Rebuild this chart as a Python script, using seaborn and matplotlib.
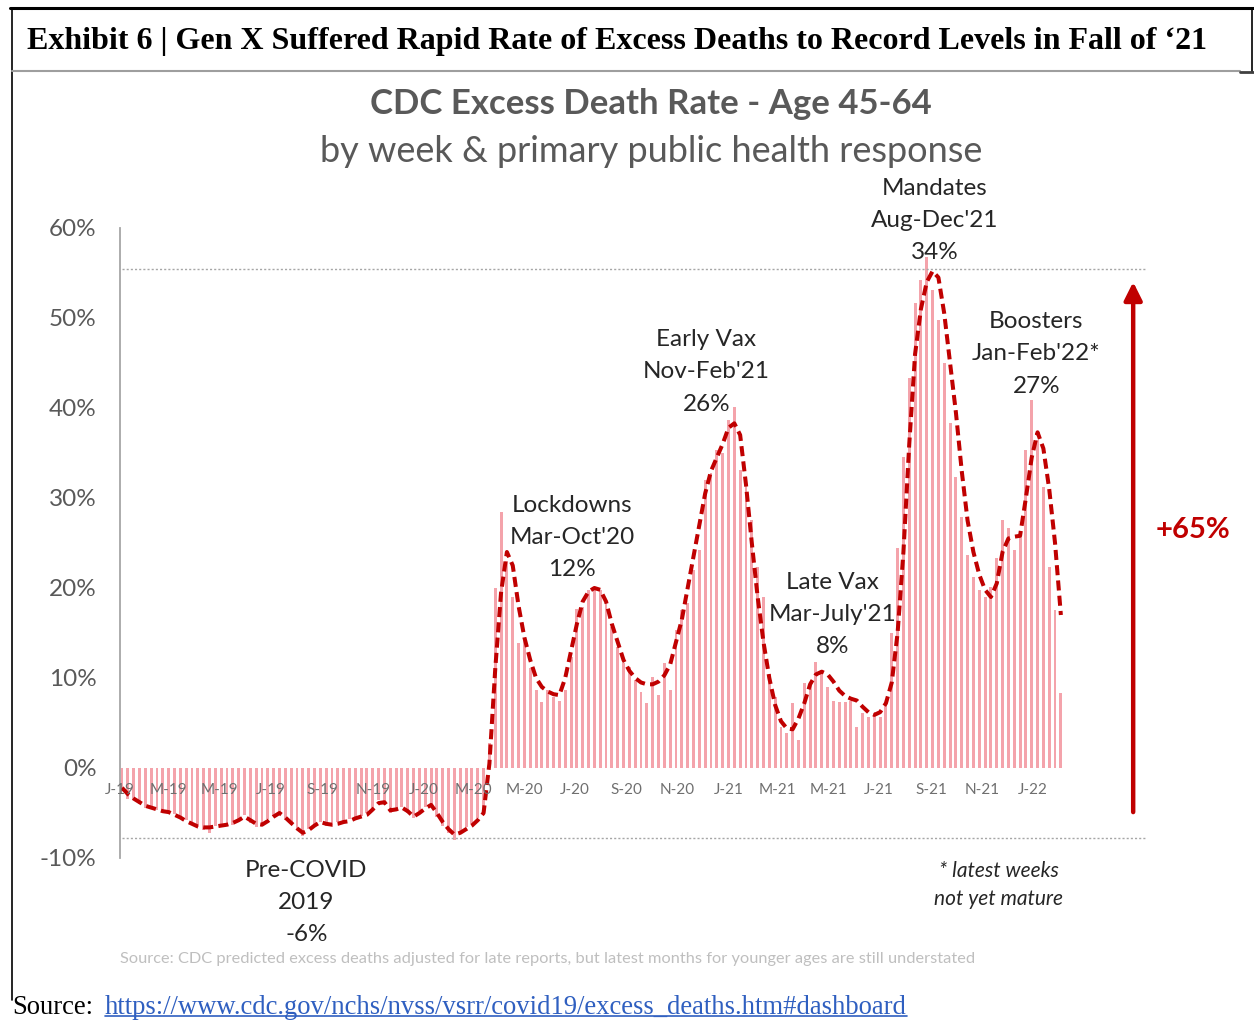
import matplotlib
matplotlib.use("Agg")
import matplotlib.pyplot as plt
from matplotlib.lines import Line2D
import seaborn as sns
import pandas as pd

# weekly excess death rate, age 45-64 (%), first week of Jan 2019 onward
excess = [
    -2.6, -3.4, -3.6, -4.0, -4.4, -4.3, -4.7, -4.9, -4.8, -5.1,
    -5.6, -5.8, -6.3, -6.6, -6.9, -7.2, -6.4, -6.6, -6.2, -6.3,
    -5.9, -5.2, -6.1, -6.6, -6.2, -5.7, -5.3, -4.9, -5.8, -6.3,
    -6.9, -7.6, -6.8, -6.2, -6.0, -6.4, -6.3, -6.0, -6.1, -5.7,
    -5.5, -5.3, -5.0, -4.4, -3.6, -4.1, -5.0, -4.5, -4.3, -5.0,
    -5.6, -4.8, -4.3, -4.0, -5.4, -6.4, -7.2, -8.0, -7.1, -6.6,
    -6.2, -5.6, -5.2, 2.8, 20.0, 28.4, 23.0, 19.0, 13.9, 14.4,
    11.1, 8.7, 7.3, 8.7, 7.9, 7.5, 8.7, 12.3, 17.7, 17.9,
    19.8, 20.0, 19.8, 18.7, 15.7, 13.4, 11.7, 11.2, 9.8, 8.4,
    7.2, 10.1, 8.1, 11.7, 8.7, 15.3, 17.6, 18.3, 22.0, 24.2,
    32.0, 32.8, 35.3, 35.0, 38.7, 40.1, 33.1, 32.3, 27.6, 22.3,
    19.0, 10.5, 7.9, 4.6, 3.9, 7.2, 3.1, 9.4, 9.6, 11.8,
    10.9, 9.0, 7.5, 7.3, 7.3, 7.5, 4.6, 6.1, 5.7, 6.1,
    5.7, 7.0, 15.0, 24.4, 34.6, 43.3, 51.7, 54.2, 56.8, 53.1,
    49.8, 45.0, 38.3, 32.3, 27.9, 23.7, 21.2, 19.8, 19.0, 20.1,
    23.3, 27.6, 26.7, 24.2, 26.1, 35.3, 40.9, 36.4, 31.2, 22.3,
    17.6, 8.3,
]

# dashed trend line (%)
trend = [
    -2.2, -2.9, -3.4, -3.8, -4.2, -4.4, -4.6, -4.8, -4.9, -5.2,
    -5.5, -5.9, -6.2, -6.5, -6.6, -6.6, -6.5, -6.4, -6.3, -6.1,
    -5.8, -5.4, -5.8, -6.2, -6.3, -5.9, -5.4, -5.0, -5.5, -6.1,
    -6.7, -7.2, -6.9, -6.4, -6.0, -6.2, -6.3, -6.2, -6.0, -5.9,
    -5.6, -5.4, -5.2, -4.6, -3.9, -3.8, -4.7, -4.6, -4.4, -4.8,
    -5.4, -5.0, -4.5, -4.1, -5.0, -6.0, -6.8, -7.4, -7.2, -6.8,
    -6.4, -5.8, -5.0, 0.5, 11.0, 19.5, 24.0, 22.5, 18.0, 14.5,
    12.0, 10.0, 9.0, 8.5, 8.2, 8.1, 10.0, 13.0, 16.0, 18.5,
    19.6, 20.0, 19.8, 18.5, 16.0, 14.0, 12.0, 10.8, 10.0, 9.5,
    9.3, 9.3, 9.6, 10.3, 11.5, 14.0, 16.5, 20.0, 23.5, 27.0,
    30.5, 33.0, 34.5, 36.0, 37.8, 38.3, 37.0, 31.5, 25.0, 19.0,
    14.0, 10.0, 7.0, 5.2, 4.4, 4.3, 5.5, 7.2, 9.3, 10.4,
    10.7, 10.4, 9.6, 8.6, 8.0, 7.7, 7.5, 6.8, 6.2, 5.9,
    6.2, 7.2, 9.5, 15.0, 24.0, 36.0, 46.0, 51.0, 54.0, 55.2,
    54.5, 50.5, 45.0, 39.5, 33.0, 27.5, 24.0, 21.5, 19.8, 19.0,
    20.5, 24.0, 25.5, 25.7, 25.8, 30.0, 34.5, 37.3, 35.5, 31.0,
    25.0, 17.0,
]

month_labels = ['J-19', 'M-19', 'M-19', 'J-19', 'S-19', 'N-19',
                'J-20', 'M-20', 'M-20', 'J-20', 'S-20', 'N-20',
                'J-21', 'M-21', 'M-21', 'J-21', 'S-21', 'N-21', 'J-22']
yticks = [-10, 0, 10, 20, 30, 40, 50, 60]

peak_level = 55.5     # dotted reference lines
trough_level = -7.8

annotations = [
    "Lockdowns\nMar-Oct'20\n12%",
    "Early Vax\nNov-Feb'21\n26%",
    "Late Vax\nMar-July'21\n8%",
    "Mandates\nAug-Dec'21\n34%",
    "Boosters\nJan-Feb'22*\n27%",
    "Pre-COVID\n2019\n-6%",
]

df = pd.DataFrame({'week': range(len(excess)), 'excess': excess, 'trend': trend})
first_week = pd.Timestamp('2019-01-04')
month_starts = pd.date_range('2019-01-01', periods=len(month_labels), freq='2MS')
month_pos = [(d - first_week).days / 7 for d in month_starts]

sns.set_theme(style="white")
plt.rcParams['font.family'] = ['Lato', 'DejaVu Sans']

W, H = 1254, 1028
fig = plt.figure(figsize=(W / 100, H / 100), dpi=100)


def fx(x):
    return x / W


def fy(y):
    return 1 - y / H


ax = fig.add_axes([fx(120), fy(858), fx(1160) - fx(120), fy(228) - fy(858)])

sns.barplot(x='week', y='excess', data=df, native_scale=True, color='#F4A3AB',
            saturation=1, width=0.5, errorbar=None, linewidth=0, ax=ax)
sns.lineplot(x='week', y='trend', data=df, color='#C00000', lw=2.9, ax=ax)
ax.get_lines()[-1].set_linestyle((0, (2.5, 1.3)))

ax.set_xlim(-0.35, 178.0)
ax.set_ylim(-10, 60)
ax.set_xlabel('')
ax.set_ylabel('')
ax.set_xticks([])
ax.set_yticks(yticks)
ax.set_yticklabels([f'{v}%' for v in yticks], color='#595959', fontsize=17.5)
ax.tick_params(axis='y', length=0, pad=17)
for s in ['top', 'right', 'bottom']:
    ax.spines[s].set_visible(False)
ax.spines['left'].set_color('#A6A6A6')
ax.spines['left'].set_linewidth(1.3)

ax.hlines([peak_level, trough_level], 0, 175.5, colors='#A6A6A6',
          linestyles=(0, (1.5, 1.5)), lw=1.0)

for pos, lab in zip(month_pos, month_labels):
    ax.text(pos, -2.45, lab, ha='center', va='center', fontsize=11, color='#6F6F6F')

# annotations
ann_xy = [(77.2, 25.6), (100.2, 44.0), (121.8, 17.1), (139.3, 60.8), (156.8, 46.0), (31.6, -14.9)]
for (x, y), txt in zip(ann_xy, annotations):
    ax.text(x, y, txt, ha='center', va='center', fontsize=17.5, color='#262626',
            linespacing=1.65, clip_on=False)
ax.text(150.3, -13.05, '* latest weeks\nnot yet mature', ha='center', va='center',
        fontsize=15, style='italic', color='#262626', linespacing=1.5, clip_on=False)

# arrow and +65%
ax.annotate('', xy=(173.4, 54.0), xytext=(173.4, -4.9),
            arrowprops=dict(arrowstyle='-|>,head_width=0.45,head_length=0.9',
                            color='#C00000', lw=3.2, shrinkA=0, shrinkB=0),
            annotation_clip=False)
ax.text(183.6, 26.4, '+65%', ha='center', va='center', fontsize=21,
        fontweight='bold', color='#C00000', clip_on=False)

# titles
fig.text(fx(651), fy(104), 'CDC Excess Death Rate - Age 45-64', ha='center', va='center',
         fontsize=25, fontweight='bold', color='#595959')
fig.text(fx(651), fy(152), 'by week & primary public health response', ha='center', va='center',
         fontsize=26, color='#595959')
fig.text(fx(548), fy(959), 'Source: CDC predicted excess deaths adjusted for late reports, '
         'but latest months for younger ages are still understated',
         ha='center', va='center', fontsize=11.8, color='#BFBFBF')

fig.text(fx(27), fy(42), 'Exhibit 6 | Gen X Suffered Rapid Rate of Excess Deaths to Record Levels in Fall of \u201821',
         ha='left', va='center', fontsize=23, fontweight='bold', family='Liberation Serif', color='black')
fig.text(fx(12), fy(1008), 'Source:', ha='left', va='center', fontsize=19.2,
         family='Liberation Serif', color='black')
link = fig.text(fx(105), fy(1008), 'https://www.cdc.gov/nchs/nvss/vsrr/covid19/excess_deaths.htm#dashboard',
                ha='left', va='center', fontsize=19.2, family='Liberation Serif', color='#2F5FC0')

# frame lines
fig.add_artist(Line2D([fx(10), 1], [fy(8), fy(8)], color='black', lw=2.2))
fig.add_artist(Line2D([fx(12), fx(12)], [fy(8), fy(1000)], color='black', lw=1.2))
fig.add_artist(Line2D([fx(1252), fx(1252)], [fy(8), fy(72)], color='black', lw=1.2))
fig.add_artist(Line2D([fx(12), fx(1240)], [fy(71), fy(71)], color='#9E9E9E', lw=1.5))
fig.add_artist(Line2D([fx(1240), 1], [fy(72), fy(72)], color='#404040', lw=2.0))

fig.canvas.draw()
bb = link.get_window_extent().transformed(fig.transFigure.inverted())
fig.add_artist(Line2D([bb.x0, bb.x1], [bb.y0 + 0.004, bb.y0 + 0.004], color='#2F5FC0', lw=1.2))

fig.savefig('out.png', dpi=100, facecolor='white')
